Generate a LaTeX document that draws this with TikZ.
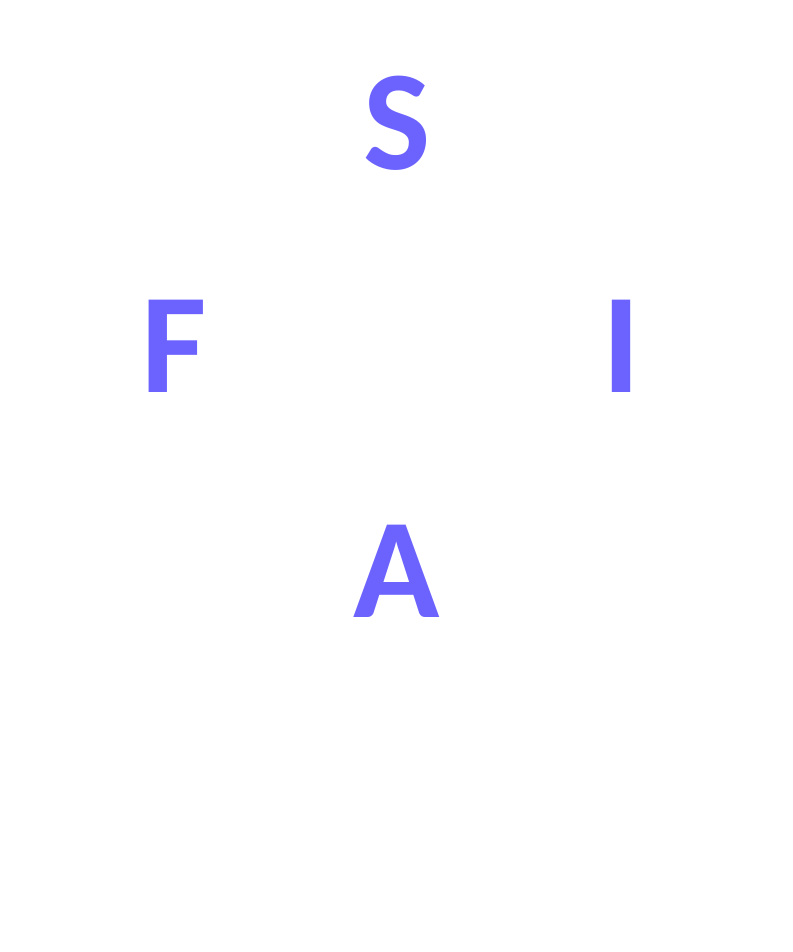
\documentclass[tikz,border=0pt]{standalone}
\usepackage{fontspec}
\setmainfont{Carlito}
\definecolor{letterpurple}{HTML}{6C63FF}
\begin{document}
\begin{tikzpicture}[x=1bp,y=-1bp,
  letter/.style={inner sep=0pt, anchor=base, text=letterpurple,
    font=\fontsize{143}{145}\selectfont\bfseries},
  ghost/.style={inner sep=0pt, anchor=base, text=white,
    font=\fontsize{64}{66}\selectfont}]
\useasboundingbox[fill=white] (0,0) rectangle (793,952);
\node[letter] (s) at (397,169) {S};
\node[letter] (f) at (174,392) {F};
\node[letter] (i) at (621,392) {I};
\node[letter] (a) at (397,617) {A};
\node[ghost] (w) at (445,828) {Encyclopædia Britannica};
\end{tikzpicture}
\end{document}
